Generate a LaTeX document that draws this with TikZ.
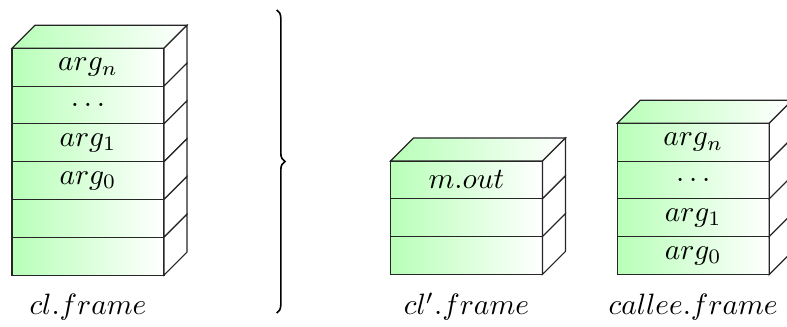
\documentclass[tikz,border=0pt]{standalone}
\usetikzlibrary{decorations.pathreplacing}
\newcommand\mydots{.\kern1.67pt.\kern1.67pt.}
\tikzset{
  cell/.style={draw=black!85, line width=0.4pt, minimum width=51.68pt, minimum height=12.85pt,
    inner sep=0pt, outer sep=0pt, left color=green!28, right color=white},
  sideface/.style={draw=black!85, line width=0.4pt, fill=white},
  topface/.style={draw=black!85, line width=0.4pt, left color=green!28, right color=white},
  lbl/.style={anchor=base, inner sep=0pt},
  bracestyle/.style={draw=black, line width=0.55pt, decorate, decoration={brace, amplitude=2.8pt}}
}
\begin{document}
\begin{tikzpicture}[x=0.34pt, y=-0.34pt]
\useasboundingbox (0,0) rectangle (787,327);
\clip (0,0) rectangle (787,327);
% left stack
\node[cell] (L1) at (88,67.2) {$arg_n$};
\node[cell] (L2) at (88,105) {\mydots};
\node[cell] (L3) at (88,142.8) {$arg_1$};
\node[cell] (L4) at (88,180.6) {$arg_0$};
\node[cell] (L5) at (88,218.4) {};
\node[cell] (L6) at (88,256.2) {};
% middle stack
\node[cell] (M1) at (466.5,179.9) {$m.out$};
\node[cell] (M2) at (466.5,217.7) {};
\node[cell] (M3) at (466.5,255.5) {};
% right stack
\node[cell] (R1) at (693.2,142.2) {$arg_n$};
\node[cell] (R2) at (693.2,180) {\mydots};
\node[cell] (R3) at (693.2,217.8) {$arg_1$};
\node[cell] (R4) at (693.2,255.6) {$arg_0$};
% top faces
\foreach \t in {L1,M1,R1}{
  \path[topface] (\t.north west) -- ++(23,-23) -- ++(152,0) -- (\t.north east) -- cycle;
}
% side faces
\foreach \r in {L1,L2,L3,L4,L5,L6,M1,M2,M3,R1,R2,R3,R4}{
  \path[sideface] (\r.north east) -- ++(23,-23) -- ++(0,37.8) -- (\r.south east) -- cycle;
}
% labels
\node[lbl] (lab1) at (88,315) {$cl.frame$};
\node[lbl] (lab2) at (466.5,315) {$cl'.frame$};
\node[lbl] (lab3) at (693.2,315) {$callee.frame$};
% brace
\coordinate (btop) at (276.7,10);
\coordinate (bbot) at (276.7,313);
\draw[bracestyle] (btop) -- (bbot);
\end{tikzpicture}
\end{document}
